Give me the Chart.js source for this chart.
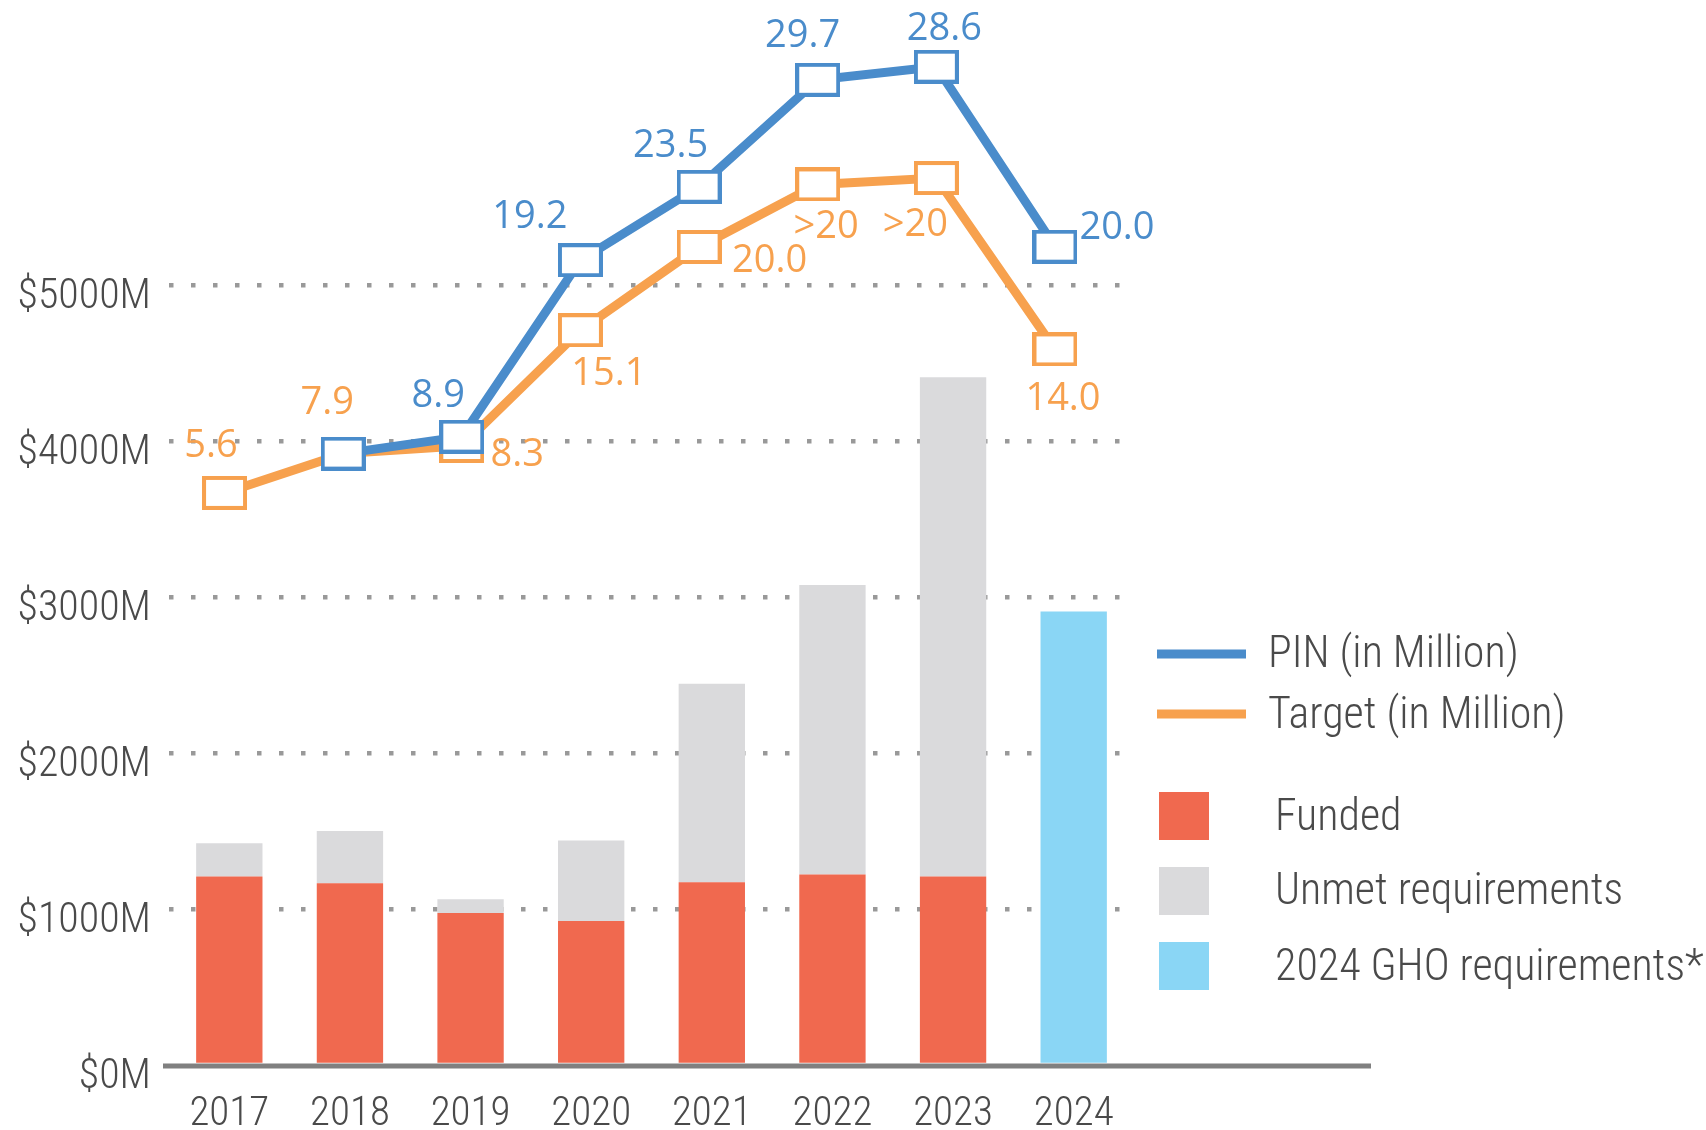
<!DOCTYPE html>
<html><head><meta charset="utf-8">
<script src="https://cdn.jsdelivr.net/npm/chart.js@4.4.1/dist/chart.umd.min.js"></script>
<style>html,body{margin:0;padding:0;background:#fff;overflow:hidden}#wrap{position:relative;width:1706px;height:1130px}</style>
</head><body><div id="wrap"><canvas id="c" width="1706" height="1130"></canvas></div>
<script>
const years = ['2017','2018','2019','2020','2021','2022','2023','2024'];
const fundedM = [1208, 1166, 974, 924, 1172, 1221, 1208, null];
const unmetM = [214, 335, 89, 515, 1272, 1857, 3202, null];
const ghoM = [null, null, null, null, null, null, null, 2907];
const pinLabels = [null, null, '8.9', '19.2', '23.5', '29.7', '28.6', '20.0'];
const targetLabels = ['5.6', '7.9', '8.3', '15.1', '20.0', '>20', '>20', '14.0'];
const pinHeight = [null, 3920, 4029, 5160, 5631, 6317, 6401, 5247];
const targetHeight = [3668, 3920, 3969, 4711, 5245, 5646, 5687, 4588];
const yTickValues = [0, 1000, 2000, 3000, 4000, 5000];

// label placement (style), relative to each marker
const pinLabelOffset = [null, null, [-23.5,-43], [-50.5,-46], [-28.5,-43], [-15,-46], [8,-40], [62,-21]];
const targetLabelOffset = [[-13.5,-50], [-16,-53], [55.5,6], [28.5,41], [70.5,11], [8.5,39.5], [-21,44], [8,46.5]];

const NARROW = '"Roboto Condensed", "DejaVu Sans Condensed", Roboto, sans-serif';
const LBL = '"Open Sans", Roboto, sans-serif';
const BLUE = '#4A8CCB', ORANGE = '#F7A14E', RED = '#F0694F', GREY = '#DADADC', SKY = '#8AD6F5';
const TEXT = '#4a4a4a';

function marker(color){
  const c = document.createElement('canvas');
  c.width = 45; c.height = 34;
  const g = c.getContext('2d');
  g.fillStyle = '#fff'; g.fillRect(0,0,45,34);
  g.strokeStyle = color; g.lineWidth = 4; g.strokeRect(2,2,41,30);
  return c;
}

const decor = {
  id: 'decor',
  beforeDatasetsDraw(chart){
    const ctx = chart.ctx, y0 = chart.scales.y.getPixelForValue(0);
    ctx.save();
    ctx.strokeStyle = '#808080'; ctx.lineWidth = 5;
    ctx.beginPath(); ctx.moveTo(chart.chartArea.left - 6, y0 + 1); ctx.lineTo(1371, y0 + 1); ctx.stroke();
    ctx.restore();
  },
  afterDatasetsDraw(chart){
    const ctx = chart.ctx;
    ctx.save();
    ctx.font = '38px ' + LBL;
    ctx.textAlign = 'center'; ctx.textBaseline = 'alphabetic';
    const put = (dsIndex, labels, offs, color) => {
      const meta = chart.getDatasetMeta(dsIndex);
      ctx.fillStyle = color;
      labels.forEach((t, i) => {
        if (t === null || !offs[i]) return;
        const p = meta.data[i];
        ctx.fillText(t, p.x + offs[i][0], p.y + offs[i][1] + 13.6);
      });
    };
    put(1, targetLabels, targetLabelOffset, ORANGE);
    put(0, pinLabels, pinLabelOffset, BLUE);
    // legend
    ctx.textAlign = 'left';
    ctx.lineWidth = 9; ctx.lineCap = 'butt';
    const lf = '300 44px ' + NARROW;
    [[chart.data.datasets[0], 654, 667],[chart.data.datasets[1], 714, 728]].forEach(([ds, ly, by]) => {
      ctx.strokeStyle = ds.borderColor;
      ctx.beginPath(); ctx.moveTo(1157, ly); ctx.lineTo(1246, ly); ctx.stroke();
      ctx.fillStyle = TEXT; ctx.font = lf;
      ctx.fillText(ds.label, 1268, by);
    });
    [[chart.data.datasets[2], 792, 830],[chart.data.datasets[3], 867, 904],[chart.data.datasets[4], 942, 980]].forEach(([ds, sy, by]) => {
      ctx.fillStyle = ds.backgroundColor; ctx.fillRect(1159, sy, 50, 48);
      ctx.fillStyle = TEXT; ctx.font = lf;
      ctx.fillText(ds.label, 1275, by);
    });
    ctx.restore();
  }
};

const barCommon = { stack: 's', order: 2, barPercentage: 0.55, categoryPercentage: 1, grouped: false };

new Chart(document.getElementById('c'), {
  type: 'bar',
  data: {
    labels: years,
    datasets: [
      { type: 'line', label: 'PIN (in Million)', data: pinHeight.map((v,i)=>({x:i, y:v})),
        xAxisID: 'xl', yAxisID: 'yl', borderColor: BLUE, borderWidth: 9, pointStyle: marker(BLUE),
        pointRadius: 20, tension: 0, order: 0, clip: false },
      { type: 'line', label: 'Target (in Million)', data: targetHeight.map((v,i)=>({x:i, y:v})),
        xAxisID: 'xl', yAxisID: 'yl', borderColor: ORANGE, borderWidth: 9, pointStyle: marker(ORANGE),
        pointRadius: 20, tension: 0, order: 1, clip: false },
      Object.assign({ label: 'Funded', data: fundedM, backgroundColor: RED }, barCommon),
      Object.assign({ label: 'Unmet requirements', data: unmetM, backgroundColor: GREY }, barCommon),
      Object.assign({ label: '2024 GHO requirements*', data: ghoM, backgroundColor: SKY }, barCommon)
    ]
  },
  options: {
    responsive: false, animation: false, devicePixelRatio: 1,
    layout: { padding: { top: 30, right: 572, bottom: 0, left: 0 } },
    plugins: { legend: { display: false }, tooltip: { enabled: false } },
    scales: {
      x: { type: 'category', stacked: true, offset: true,
        grid: { display: false, drawTicks: false }, border: { display: false },
        ticks: { font: { family: NARROW, size: 41, weight: '300' }, color: TEXT, padding: 25, maxRotation: 0 },
        afterFit: s => { s.height = 65; s.paddingLeft = 0; s.paddingRight = 0; } },
      y: { type: 'linear', stacked: true, min: 0, max: 6636, bounds: 'data',
        afterBuildTicks: s => { s.ticks = yTickValues.map(v => ({ value: v })); },
        ticks: { callback: v => '$' + v + 'M', font: { family: NARROW, size: 42, weight: '300' }, color: TEXT, padding: 18, labelOffset: 12 },
        grid: { color: c => (c.tick && c.tick.value === 0) ? 'rgba(0,0,0,0)' : '#999', lineWidth: 4.5, drawTicks: false },
        border: { display: false, dash: [4.5, 17.5] },
        afterFit: s => { s.width = 169; s.paddingTop = 0; s.paddingBottom = 0; } },
      xl: { type: 'linear', display: false, offset: false, bounds: 'data', min: -0.4678, max: 7.666 },
      yl: { type: 'linear', display: false, offset: false, bounds: 'data', min: 0, max: 6636 }
    }
  },
  plugins: [decor]
});
</script>
</body></html>
